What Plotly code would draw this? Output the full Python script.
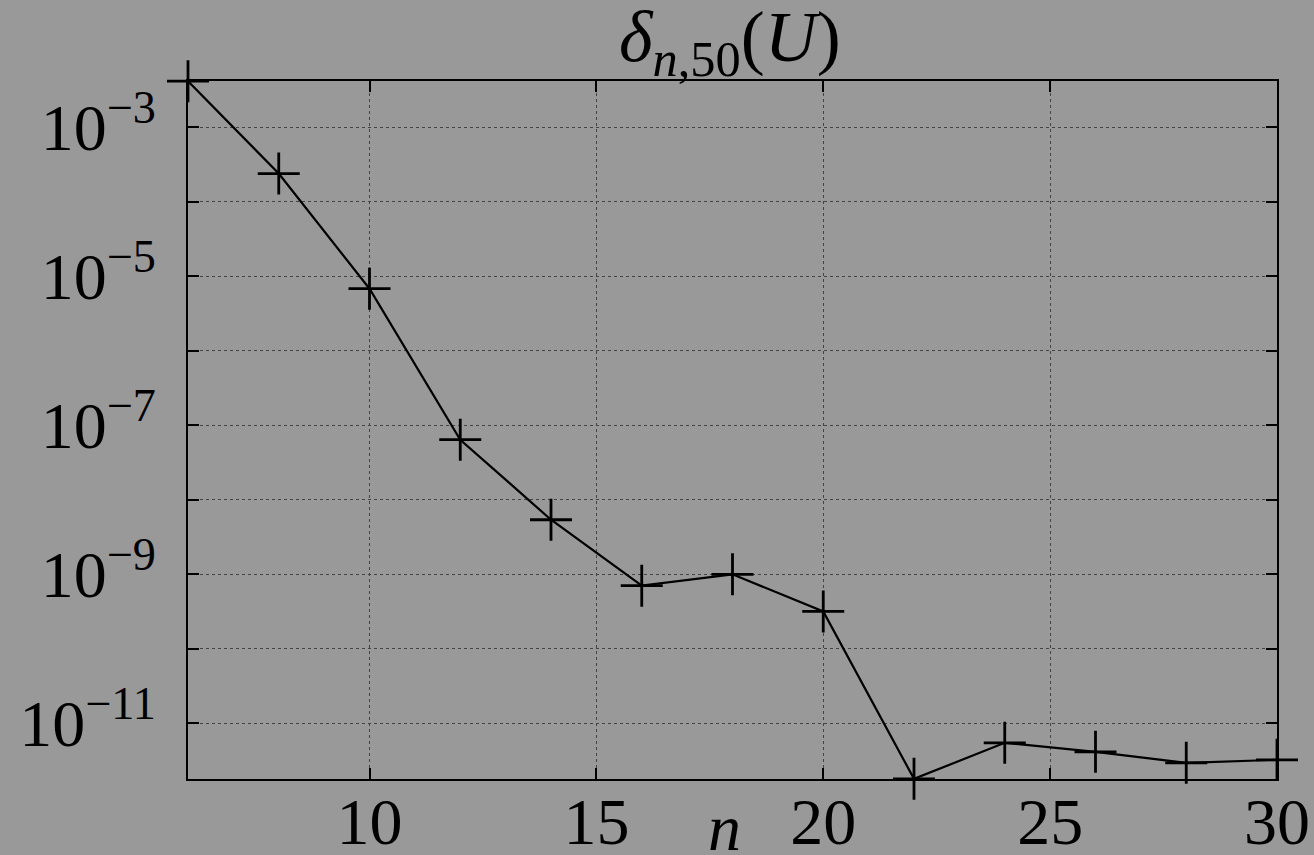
import plotly.graph_objects as go
import math

n_values = [6, 8, 10, 12, 14, 16, 18, 20, 22, 24, 26, 28, 30]
delta_values = [4.15e-3, 2.39e-4, 6.8e-6, 6.4e-8, 5.4e-9, 7.05e-10, 1.0e-9,
                3.18e-10, 1.80e-12, 5.48e-12, 4.15e-12, 2.95e-12, 3.24e-12]

x_ticks = [10, 15, 20, 25, 30]
y_exponents = [-3, -4, -5, -6, -7, -8, -9, -10, -11]
y_ticks = [10.0 ** e for e in y_exponents]
y_ticktext = [f"10<sup>−{-e}</sup>" if e % 2 != 0 else "" for e in y_exponents]

FONT = "Liberation Serif"
BG = "#999999"
FS = 66

fig = go.Figure()
fig.add_trace(go.Scatter(
    x=n_values, y=delta_values, mode="lines+markers",
    line=dict(color="black", width=2.2),
    marker=dict(symbol="cross-thin", size=30, line=dict(color="black", width=2.8)),
    cliponaxis=False, showlegend=False,
))

fig.update_layout(
    width=1314, height=855,
    paper_bgcolor=BG, plot_bgcolor=BG,
    margin=dict(l=188, r=37, t=81, b=76),
    font=dict(family=FONT, color="black", size=FS),
    showlegend=False,
)

fig.update_xaxes(
    range=[6, 30], tickvals=x_ticks, ticktext=[str(v) for v in x_ticks],
    ticks="inside", ticklen=11, tickwidth=1.5, tickcolor="black",
    showline=True, linecolor="black", linewidth=2, mirror="allticks",
    showgrid=True, gridcolor="#444444", griddash="dot", gridwidth=1,
    zeroline=False, tickfont=dict(size=FS, family=FONT), ticklabelstandoff=-16,
    automargin=False,
)
fig.update_yaxes(
    type="log",
    range=[math.log10(delta_values[8]) - 0.002, math.log10(delta_values[0]) + 0.002],
    tickvals=y_ticks, ticktext=y_ticktext,
    ticks="inside", ticklen=11, tickwidth=1.5, tickcolor="black",
    showline=True, linecolor="black", linewidth=2, mirror="allticks",
    showgrid=True, gridcolor="#444444", griddash="dot", gridwidth=1,
    zeroline=False, tickfont=dict(size=FS, family=FONT), ticklabelstandoff=17,
    automargin=False,
)

fig.add_annotation(
    text="<i>δ</i><sub><i>n</i>,50</sub>(<i>U</i>)", xref="paper", yref="paper",
    x=0.498, y=1.0, xanchor="center", yanchor="bottom", yshift=-8,
    showarrow=False, font=dict(size=72, family=FONT),
)
fig.add_annotation(
    text="<i>n</i>", xref="paper", yref="paper",
    x=0.493, y=0, xanchor="center", yanchor="top", yshift=-10,
    showarrow=False, font=dict(size=FS, family=FONT),
)

fig.write_html("out.html", config={"displayModeBar": False},
               post_script="document.body.style.margin='0';")
